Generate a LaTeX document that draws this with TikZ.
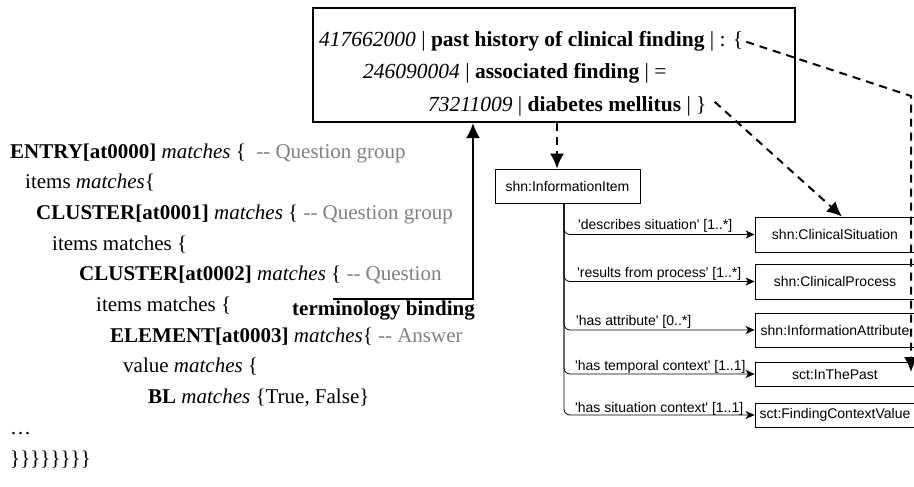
\documentclass[tikz,border=0pt]{standalone}
\usepackage{fontspec}
\setmainfont{Liberation Serif}
\newfontfamily\diagfont[Ligatures=TeXOff]{Liberation Sans}
\usepackage{xcolor}
\usetikzlibrary{calc,arrows.meta}
\definecolor{commentgray}{RGB}{128,128,128}

\begin{document}
\begin{tikzpicture}[x=1pt,y=-1pt,>=stealth,
  code/.style={anchor=base west,inner sep=0pt,font=\fontsize{21}{25}\selectfont},
  cls/.style={draw,line width=0.8pt,minimum width=160pt,inner sep=0pt,font=\diagfont\fontsize{14}{16}\selectfont},
  rel/.style={anchor=base west,inner sep=0pt,font=\diagfont\fontsize{14}{16}\selectfont},
  link/.style={line width=0.8pt,rounded corners=6pt,-{Stealth[length=9pt,width=8pt,inset=2.5pt]}},
  ref/.style={line width=2pt,dash pattern=on 8pt off 6pt,-{Latex[length=15pt,width=14pt]}},
  bind/.style={line width=2.2pt,-{Latex[length=15pt,width=14pt]}}]
			\useasboundingbox (0,0) rectangle (914,487);
			\clip (0,0) rectangle (914,487);
			\def\gap{30.7}
			
			\node[draw,line width=2pt,minimum width=482pt,minimum height=114pt] (expr) at (554,65) {};
			\node[code,font=\fontsize{21.5}{25}\selectfont] (line1) at (319,47) {\textit{417662000} | \textbf{past history of clinical finding} | : \{};
			\node[code,font=\fontsize{21.5}{25}\selectfont] (line2) at (363,79) {\textit{246090004} | \textbf{associated finding} | =};
			\node[code,font=\fontsize{21.5}{25}\selectfont] (line3) at (428,111) {\textit{73211009} | \textbf{diabetes mellitus} | \}};
			
			\node[code] (c0) at (10,158) {\textbf{ENTRY[at0000]} \textit{matches} \{\ \ \textcolor{commentgray}{-{}- Question group}};
			\node[code] (c1) at (25,158+\gap) {items \textit{matches}\{};
			\node[code] (c2) at (36,158+2*\gap) {\textbf{CLUSTER[at0001]} \textit{matches} \{ \textcolor{commentgray}{-{}- Question group}};
			\node[code] (c3) at (52,158+3*\gap) {items matches \{};
			\node[code] (c4) at (79,158+4*\gap) {\textbf{CLUSTER[at0002]} \textit{matches} \{ \textcolor{commentgray}{-{}- Question}};
			\node[code] (c5) at (96,158+5*\gap) {items matches \{};
			\node[code] (c6) at (110,158+6*\gap) {\textbf{ELEMENT[at0003]} \textit{matches}\{ \textcolor{commentgray}{-{}- Answer}};
			\node[code] (c7) at (123,158+7*\gap) {value \textit{matches} \{};
			\node[code] (c8) at (148,158+8*\gap) {\textbf{BL} \textit{matches} \{True, False\}};
			\node[code] (c9) at (10,158+9*\gap) {…};
			\node[code] (c10) at (10,158+10*\gap) {\}\}\}\}\}\}\}\}};
			
			\node[cls,minimum width=145pt,minimum height=34pt] (item) at (567.5,186) {shn:InformationItem};
			\node[cls,minimum height=35pt] (sit) at (835,234.5) {shn:ClinicalSituation};
			\node[cls,minimum height=35pt] (proc) at (835,281.5) {shn:ClinicalProcess};
			\node[cls,minimum height=34pt] (attr) at (835,330) {shn:InformationAttribute};
			\node[cls,minimum height=24pt] (past) at (835,374) {sct:InThePast};
			\node[cls,minimum height=24pt] (ctx) at (835,415) {sct:FindingContextValue};
			
			\draw[link] ([xshift=-3.5pt]item.south) |- (sit.west);
			\draw[link] ([xshift=-3.5pt]item.south) |- (proc.west);
			\draw[link] ([xshift=-3.5pt]item.south) |- (attr.west);
			\draw[link] ([xshift=-3.5pt]item.south) |- (past.west);
			\draw[link] ([xshift=-3.5pt]item.south) |- (ctx.west);
			
			\node[rel] (r1) at (578,229) {'describes situation' [1..*]};
			\node[rel] (r2) at (577,277) {'results from process' [1..*]};
			\node[rel] (r3) at (576,325) {'has attribute' [0..*]};
			\node[rel] (r4) at (575,370) {'has temporal context' [1..1]};
			\node[rel] (r5) at (575,412) {'has situation context' [1..1]};
			
			\coordinate (bindStart) at (333,299);
			\coordinate (bend) at (911,96);
			\coordinate (pastTip) at (911,372);
			
			\draw[bind] (bindStart) -| ([xshift=-81pt]expr.south);
			\node[code] (term) at (292,315) {\textbf{terminology binding}};
			\draw[ref] ([xshift=3pt]expr.south) -- ([xshift=-10.5pt]item.north);
			\draw[ref] ([xshift=8pt,yshift=4pt]line3.east) -- ([xshift=7pt]sit.north);
			\draw[ref] ([xshift=3pt]line1.east) -- (bend) -- (pastTip);
		\end{tikzpicture}
\end{document}
